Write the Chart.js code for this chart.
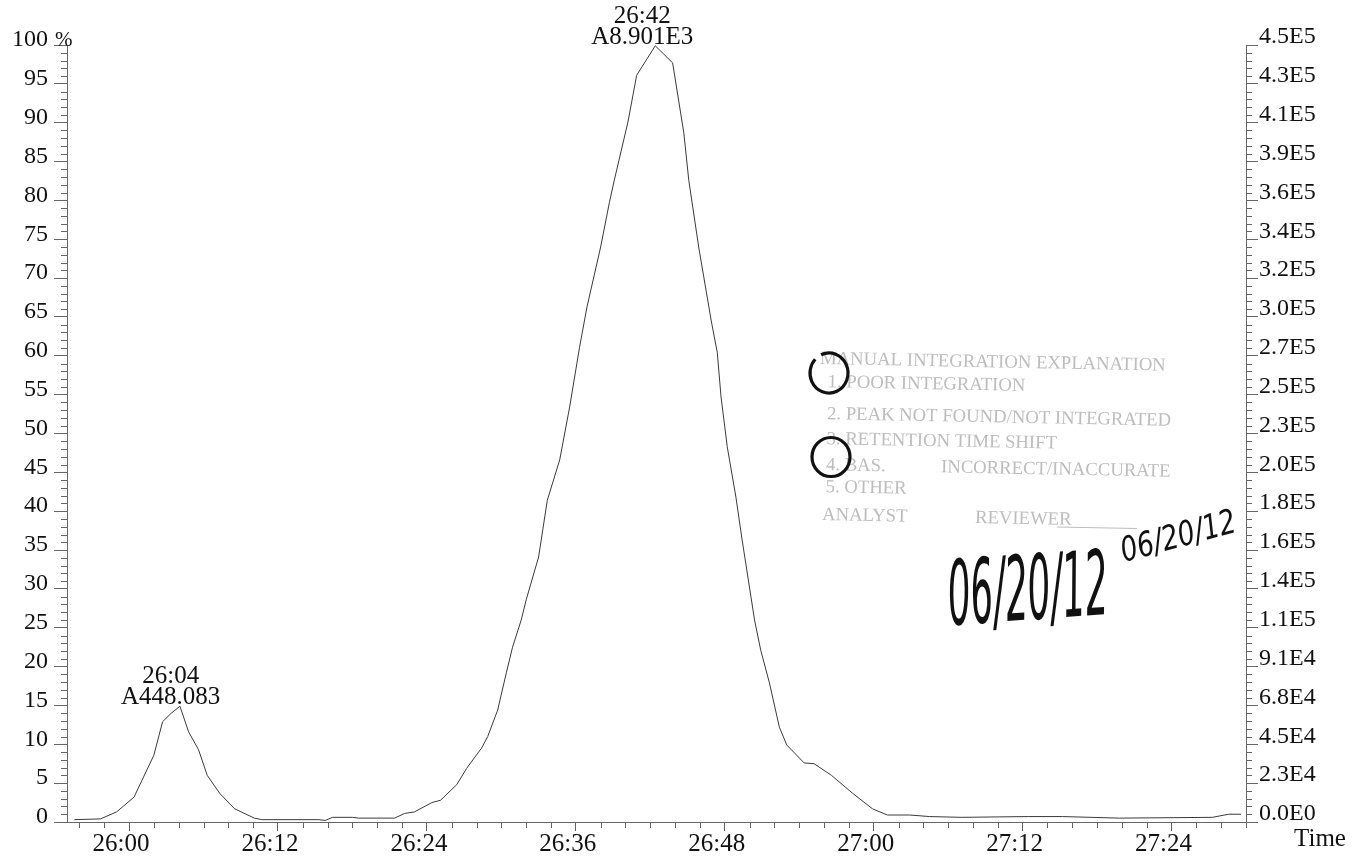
<!DOCTYPE html>
<html>
<head>
<meta charset="utf-8">
<script src="https://cdn.jsdelivr.net/npm/chart.js@4.4.1/dist/chart.umd.min.js"></script>
<style>
  html, body { margin: 0; padding: 0; background: #fff; overflow: hidden; }
  canvas { display: block; }
</style>
</head>
<body>
<canvas id="myChart" width="1366" height="856"></canvas>
<script>
// retention time in seconds (26:00 = 1560), relative abundance in %
const retentionTime = [
  1555.6, 1557.7, 1559.0, 1560.4, 1562.0, 1562.7, 1563.4, 1564.1, 1564.8, 1565.6,
  1566.3, 1567.3, 1568.5, 1570.1, 1570.7, 1575.3, 1575.8, 1576.4, 1578.0, 1578.5,
  1581.4, 1582.2, 1583.0, 1584.4, 1585.1, 1586.4, 1587.2, 1588.4, 1588.9, 1589.7,
  1590.4, 1590.9, 1591.6, 1592.0, 1593.0, 1593.7, 1594.7, 1595.5, 1596.3, 1596.9,
  1598.0, 1598.7, 1599.1, 1600.2, 1600.9, 1602.4, 1603.8, 1604.7, 1605.1, 1605.9,
  1606.9, 1607.4, 1607.7, 1608.2, 1608.9, 1609.4, 1610.4, 1610.9, 1611.6, 1612.4,
  1613.0, 1614.4, 1615.2, 1616.6, 1618.3, 1619.9, 1621.1, 1622.9, 1624.5, 1627.1,
  1632.5, 1635.2, 1639.8, 1647.3, 1648.6, 1649.6
];
const abundance = [
  0.3, 0.4, 1.3, 3.2, 8.6, 12.9, 14.0, 14.9, 11.6, 9.3,
  6.0, 3.7, 1.7, 0.5, 0.3, 0.3, 0.2, 0.6, 0.6, 0.5,
  0.5, 1.1, 1.3, 2.5, 2.8, 4.8, 6.9, 9.5, 11.0, 14.4,
  19.2, 22.5, 26.0, 28.6, 34.1, 41.4, 46.6, 53.4, 61.1, 66.3,
  74.0, 79.7, 82.6, 90.1, 96.1, 99.9, 97.7, 88.7, 82.6, 74.0,
  64.6, 60.4, 54.7, 48.3, 41.8, 36.3, 26.0, 22.1, 17.9, 12.2,
  9.9, 7.6, 7.5, 6.0, 3.7, 1.7, 0.9, 0.9, 0.7, 0.6,
  0.7, 0.7, 0.5, 0.6, 1.0, 1.0
];

const peakTimes = [1564, 1602];
const peakHeights = [14.9, 99.9];
const peakAreas = ["A448.083", "A8.901E3"];

const timeMin = 1555, timeMax = 1650, timeStep = 12;
const maxCounts = 454000;
const rightAxisLabels = [
  "0.0E0", "2.3E4", "4.5E4", "6.8E4", "9.1E4", "1.1E5", "1.4E5", "1.6E5", "1.8E5", "2.0E5", "2.3E5",
  "2.5E5", "2.7E5", "3.0E5", "3.2E5", "3.4E5", "3.6E5", "3.9E5", "4.1E5", "4.3E5", "4.5E5"
];

const stampText = [
  "MANUAL INTEGRATION EXPLANATION",
  "1. POOR INTEGRATION",
  "2. PEAK NOT FOUND/NOT INTEGRATED",
  "3. RETENTION TIME SHIFT",
  "4. BAS.",
  "INCORRECT/INACCURATE",
  "5. OTHER",
  "ANALYST",
  "REVIEWER"
];
const signDate = "06/20/12";

const SERIF = "'Liberation Serif', 'Times New Roman', serif";
const HAND = "'Liberation Sans Narrow', 'DejaVu Sans Condensed', sans-serif";
const AXIS = "#666";

function fmtTime(v) {
  const m = Math.floor(v / 60), s = Math.round(v - m * 60);
  return m + ":" + (s < 10 ? "0" + s : s);
}

const extras = {
  id: "extras",
  afterDraw(chart) {
    const { ctx, chartArea: a, scales: { x, y, y2 } } = chart;
    ctx.save();

    // minor ticks
    ctx.strokeStyle = AXIS;
    ctx.lineWidth = 1;
    ctx.beginPath();
    for (let v = 0; v <= 100; v++) {
      if (v % 5 === 0) continue;
      const py = Math.round(y.getPixelForValue(v)) + 0.5;
      ctx.moveTo(a.left - 6, py); ctx.lineTo(a.left, py);
      const py2 = Math.round(y2.getPixelForValue(v * maxCounts / 100)) + 0.5;
      ctx.moveTo(a.right, py2); ctx.lineTo(a.right + 6, py2);
    }
    for (let t = timeMin + 1; t <= timeMax; t += 2) {
      if (t % timeStep === 0) continue;
      const px = Math.round(x.getPixelForValue(t)) + 0.5;
      ctx.moveTo(px, a.bottom); ctx.lineTo(px, a.bottom + 6);
    }
    ctx.stroke();

    // peak labels
    ctx.fillStyle = "#111";
    ctx.font = "25px " + SERIF;
    ctx.textAlign = "center";
    ctx.textBaseline = "alphabetic";
    peakTimes.forEach((t, i) => {
      const px = x.getPixelForValue(t) - 8;
      const py = y.getPixelForValue(peakHeights[i]) - 2;
      ctx.fillText(peakAreas[i], px, py);
      ctx.fillText(fmtTime(t), px, py - 21);
    });

    // axis words
    ctx.font = "21px " + SERIF;
    ctx.textAlign = "left";
    ctx.fillText("%", a.left - 12, a.top + 1);
    ctx.font = "25px " + SERIF;
    ctx.textAlign = "center";
    ctx.fillText("Time", a.right + 74, a.bottom + 24);

    // faded stamp
    ctx.save();
    ctx.translate(820, 364);
    ctx.rotate(1.1 * Math.PI / 180);
    ctx.fillStyle = "#bdbdbd";
    ctx.font = "20px " + SERIF;
    const k = 344 / ctx.measureText(stampText[2]).width;
    ctx.font = (20 * k).toFixed(1) + "px " + SERIF;
    ctx.textAlign = "left";
    const rows = [[0, 0], [8, 23], [8, 55], [8, 80], [8, 106], [123, 106], [8, 128], [5, 156], [158, 156]];
    stampText.forEach((s, i) => ctx.fillText(s, rows[i][0], rows[i][1]));
    ctx.fillRect(240, 158, 80, 1);
    ctx.restore();

    // pen marks
    ctx.strokeStyle = "#111";
    ctx.lineWidth = 3.2;
    ctx.beginPath();
    ctx.ellipse(829, 373, 19, 20, 0, -2.0, 3.9);
    ctx.stroke();
    ctx.beginPath();
    ctx.ellipse(831, 457, 19, 19.5, 0, 0, Math.PI * 2);
    ctx.stroke();

    ctx.fillStyle = "#111";
    ctx.textAlign = "left";
    ctx.save();
    ctx.translate(950, 625);
    ctx.rotate(-4 * Math.PI / 180);
    ctx.font = "italic 72px " + HAND;
    let w = ctx.measureText(signDate).width;
    ctx.scale(160 / w, 1.25);
    ctx.fillText(signDate, 0, 0);
    ctx.restore();

    ctx.save();
    ctx.translate(1124, 562);
    ctx.rotate(-15 * Math.PI / 180);
    ctx.font = "italic 34px " + HAND;
    w = ctx.measureText(signDate).width;
    ctx.scale(118 / w, 1);
    ctx.fillText(signDate, 0, 0);
    ctx.restore();

    ctx.restore();
  }
};

const ctx = document.getElementById("myChart").getContext("2d");
const config = {
  type: "scatter",
  data: {
    datasets: [{
      data: retentionTime.map((t, i) => ({ x: t, y: abundance[i] })),
      showLine: true,
      borderColor: "#3a3a3a",
      borderWidth: 1,
      pointRadius: 0,
      tension: 0,
      fill: false,
    }],
  },
  options: {
    responsive: false,
    animation: false,
    layout: { padding: { top: 45, left: 0, right: 0, bottom: 0 } },
    plugins: { legend: { display: false }, tooltip: { enabled: false } },
    scales: {
      x: {
        type: "linear",
        min: timeMin,
        max: timeMax,
        afterFit: (s) => { s.height = 34; },
        grid: { drawOnChartArea: false, tickLength: 9, color: AXIS },
        border: { color: AXIS },
        ticks: {
          stepSize: timeStep,
          includeBounds: false,
          autoSkip: false,
          maxRotation: 0,
          padding: -2,
          labelOffset: -8,
          color: "#111",
          font: { family: SERIF, size: 25 },
          callback: (v) => fmtTime(v),
        },
      },
      y: {
        position: "left",
        min: 0,
        max: 100,
        afterFit: (s) => { s.width = 67; },
        grid: { drawOnChartArea: false, tickLength: 13, color: AXIS },
        border: { color: AXIS },
        ticks: {
          stepSize: 5,
          maxTicksLimit: 30,
          autoSkip: false,
          padding: 6,
          labelOffset: -5,
          color: "#111",
          font: { family: SERIF, size: 24 },
        },
      },
      y2: {
        position: "right",
        min: 0,
        max: maxCounts,
        afterFit: (s) => { s.width = 120; },
        grid: { drawOnChartArea: false, tickLength: 12, color: AXIS },
        border: { color: AXIS },
        ticks: {
          stepSize: maxCounts / 20,
          maxTicksLimit: 30,
          autoSkip: false,
          padding: 1,
          labelOffset: -8,
          color: "#111",
          font: { family: SERIF, size: 24 },
          callback: (v, i) => rightAxisLabels[i],
        },
      },
    },
  },
  plugins: [extras],
};
const myChart = new Chart(ctx, config);
</script>
</body>
</html>
